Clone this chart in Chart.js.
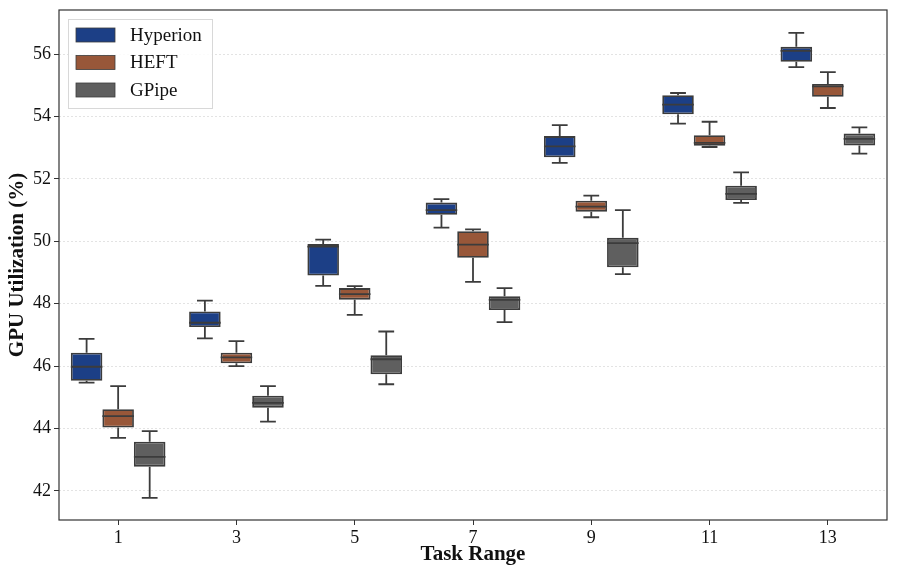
<!DOCTYPE html>
<html>
<head>
<meta charset="utf-8">
<script src="https://cdn.jsdelivr.net/npm/chart.js@4.4.0/dist/chart.umd.min.js"></script>
<style>
  html, body { margin: 0; padding: 0; background: #fff; }
  #wrap { width: 897px; height: 577px; }
</style>
</head>
<body>
<div id="wrap"><canvas id="gpuChart" width="897" height="577"></canvas></div>
<script>
// task ranges on the x axis
const taskRanges = ['1', '3', '5', '7', '9', '11', '13'];
const yTicks = [42, 44, 46, 48, 50, 52, 54, 56];

// each entry: [whisker low, q1, median, q3, whisker high]
const hyperion = [
  [45.47, 45.53, 45.98, 46.43, 46.87],
  [46.89, 47.25, 47.39, 47.75, 48.10],
  [48.57, 48.90, 49.83, 49.91, 50.05],
  [50.44, 50.85, 51.00, 51.24, 51.35],
  [52.51, 52.69, 53.04, 53.37, 53.72],
  [53.77, 54.07, 54.38, 54.68, 54.75],
  [55.58, 55.75, 56.10, 56.23, 56.68]
];
const heft = [
  [43.70, 44.03, 44.40, 44.62, 45.36],
  [46.00, 46.09, 46.28, 46.43, 46.80],
  [47.64, 48.13, 48.31, 48.50, 48.56],
  [48.70, 49.47, 49.89, 50.32, 50.38],
  [50.77, 50.95, 51.11, 51.30, 51.46],
  [53.02, 53.06, 53.15, 53.40, 53.83],
  [54.27, 54.63, 54.96, 55.04, 55.42]
];
const gpipe = [
  [41.78, 42.78, 43.09, 43.58, 43.92],
  [44.22, 44.67, 44.82, 45.05, 45.36],
  [45.42, 45.74, 46.22, 46.35, 47.11],
  [47.41, 47.80, 48.12, 48.24, 48.50],
  [48.95, 49.17, 49.94, 50.11, 51.00],
  [51.23, 51.32, 51.52, 51.78, 52.21],
  [52.81, 53.07, 53.28, 53.45, 53.65]
];

const seriesNames = ['Hyperion', 'HEFT', 'GPipe'];
const seriesColors = ['#1c3f86', '#985739', '#5f5f5f'];
const seriesStats = [hyperion, heft, gpipe];
const edgeColor = '#3c3c3c';
const serif = "'Liberation Serif', 'Times New Roman', serif";

// median + whiskers on top of the floating bars
const boxPlugin = {
  id: 'boxWhiskers',
  afterDatasetsDraw(chart) {
    const ctx = chart.ctx;
    const y = chart.scales.y;
    ctx.save();
    ctx.strokeStyle = edgeColor;
    ctx.lineWidth = 1.8;
    seriesStats.forEach((stats, di) => {
      const meta = chart.getDatasetMeta(di);
      meta.data.forEach((bar, i) => {
        const [lo, q1, med, q3, hi] = stats[i];
        const x = bar.x, half = bar.width / 2, cap = bar.width / 4;
        const pLo = y.getPixelForValue(lo), pQ1 = y.getPixelForValue(q1);
        const pMed = y.getPixelForValue(med), pQ3 = y.getPixelForValue(q3);
        const pHi = y.getPixelForValue(hi);
        ctx.beginPath();
        ctx.moveTo(x, pQ3); ctx.lineTo(x, pHi);
        ctx.moveTo(x - cap, pHi); ctx.lineTo(x + cap, pHi);
        ctx.moveTo(x, pQ1); ctx.lineTo(x, pLo);
        ctx.moveTo(x - cap, pLo); ctx.lineTo(x + cap, pLo);
        ctx.moveTo(x - half, pMed); ctx.lineTo(x + half, pMed);
        ctx.stroke();
      });
    });
    ctx.restore();
  },
  afterDraw(chart) {
    const ctx = chart.ctx;
    const a = chart.chartArea;
    ctx.save();
    // frame
    ctx.strokeStyle = '#333';
    ctx.lineWidth = 1.2;
    ctx.strokeRect(a.left, a.top, a.right - a.left, a.bottom - a.top);
    // legend in the upper left corner
    const lx = a.left + 9, ly = a.top + 9;
    ctx.fillStyle = 'rgba(255,255,255,0.85)';
    ctx.fillRect(lx, ly, 144, 89);
    ctx.strokeStyle = '#d8d8d8';
    ctx.lineWidth = 1;
    ctx.strokeRect(lx + 0.5, ly + 0.5, 144, 89);
    ctx.font = '19px ' + serif;
    ctx.textBaseline = 'middle';
    seriesNames.forEach((name, i) => {
      const rowY = ly + 16 + i * 27.5;
      ctx.fillStyle = seriesColors[i];
      ctx.fillRect(lx + 8, rowY - 7, 39, 14);
      ctx.strokeStyle = edgeColor;
      ctx.lineWidth = 0.8;
      ctx.strokeRect(lx + 8, rowY - 7, 39, 14);
      ctx.fillStyle = '#111';
      ctx.fillText(name, lx + 62, rowY + 1);
    });
    ctx.restore();
  }
};

const datasets = seriesNames.map((name, i) => ({
  label: name,
  data: seriesStats[i].map(s => [s[1], s[3]]),
  backgroundColor: seriesColors[i],
  borderColor: edgeColor,
  borderWidth: 1.8,
  borderSkipped: false,
  categoryPercentage: 0.8,
  barPercentage: 1.0
}));

new Chart(document.getElementById('gpuChart').getContext('2d'), {
  type: 'bar',
  data: { labels: taskRanges, datasets: datasets },
  options: {
    responsive: false,
    animation: false,
    layout: { padding: { top: 10, right: 10, left: 0, bottom: 0 } },
    plugins: { legend: { display: false }, tooltip: { enabled: false } },
    scales: {
      x: {
        grid: { display: true, drawOnChartArea: false, offset: false, tickLength: 5, tickColor: '#333' },
        border: { display: false },
        ticks: { color: '#111', font: { family: serif, size: 18 }, padding: 2 },
        title: { display: true, text: 'Task Range', color: '#111',
                 font: { family: serif, size: 21, weight: 'bold' }, padding: { top: 10, bottom: 10 } },
        afterFit: s => { s.height = 57; s.paddingLeft = 0; s.paddingRight = 0; }
      },
      y: {
        min: 41.07,
        max: 57.41,
        afterBuildTicks: s => { s.ticks = yTicks.map(v => ({ value: v })); },
        grid: { color: '#e3e3e3', tickColor: '#333', tickLength: 5, lineWidth: 1 },
        border: { display: false, dash: [2, 2] },
        ticks: { color: '#111', font: { family: serif, size: 18 }, padding: 3 },
        title: { display: true, text: 'GPU Utilization (%)', color: '#111',
                 font: { family: serif, size: 21, weight: 'bold' }, padding: { top: 5, bottom: 5 } },
        afterFit: s => { s.width = 59; s.paddingTop = 0; s.paddingBottom = 0; }
      }
    }
  },
  plugins: [boxPlugin]
});
</script>
</body>
</html>
